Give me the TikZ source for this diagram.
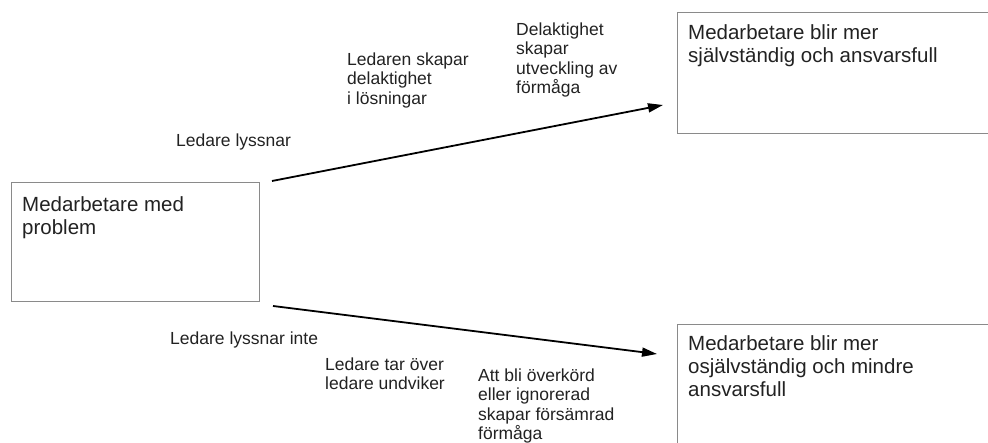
\documentclass[tikz,border=0pt]{standalone}
\usepackage{fontspec}
\setmainfont{Liberation Sans}
\usetikzlibrary{arrows.meta}
\definecolor{txt}{HTML}{222222}
\definecolor{edge}{HTML}{8A8A8A}
\tikzset{
  box/.style={draw=edge, line width=1.3pt, fill=white, anchor=north west, inner sep=0pt},
  bigtxt/.style={anchor=north west, inner sep=0pt, align=left, text=txt, font=\fontsize{20.5}{23}\selectfont},
  smalltxt/.style={anchor=north west, inner sep=0pt, align=left, text=txt, font=\fontsize{17.5}{19.5}\selectfont},
  flow/.style={draw=black, line width=1.8pt, -{Triangle[length=15pt,width=9pt]}}
}
\begin{document}
\begin{tikzpicture}[x=1pt,y=-1pt]
\useasboundingbox (0,0) rectangle (988,443);
\clip (0,0) rectangle (988,443);
% boxes
\node[box, minimum width=248pt, minimum height=119pt] (left) at (11,182) {};
\node[box, minimum width=320pt, minimum height=121pt] (top) at (677,12) {};
\node[box, minimum width=320pt, minimum height=130pt] (bottom) at (677,324) {};
% box texts
\node[bigtxt] (lefttxt) at (22,196) {Medarbetare med\\problem};
\node[bigtxt] (toptxt) at (688,24.5) {Medarbetare blir mer\\självständig och ansvarsfull};
\node[bigtxt] (bottomtxt) at (688,335.5) {Medarbetare blir mer\\osjälvständig och mindre\\ansvarsfull};
% labels
\node[smalltxt] (l1) at (176,133.5) {Ledare lyssnar};
\node[smalltxt] (l2) at (347,52.5) {Ledaren skapar\\delaktighet\\i lösningar};
\node[smalltxt] (l3) at (516,22.5) {Delaktighet\\skapar\\utveckling av\\förmåga};
\node[smalltxt] (l4) at (170,331.5) {Ledare lyssnar inte};
\node[smalltxt] (l5) at (325,357.5) {Ledare tar över\\ledare undviker};
\node[smalltxt] (l6) at (478,368.5) {Att bli överkörd\\eller ignorerad\\skapar försämrad\\förmåga};
% arrows
\coordinate (s1) at (272,181);
\coordinate (e1) at (663,105);
\coordinate (s2) at (273,306);
\coordinate (e2) at (657,354);
\draw[flow] (s1) -- (e1);
\draw[flow] (s2) -- (e2);
\end{tikzpicture}
\end{document}
